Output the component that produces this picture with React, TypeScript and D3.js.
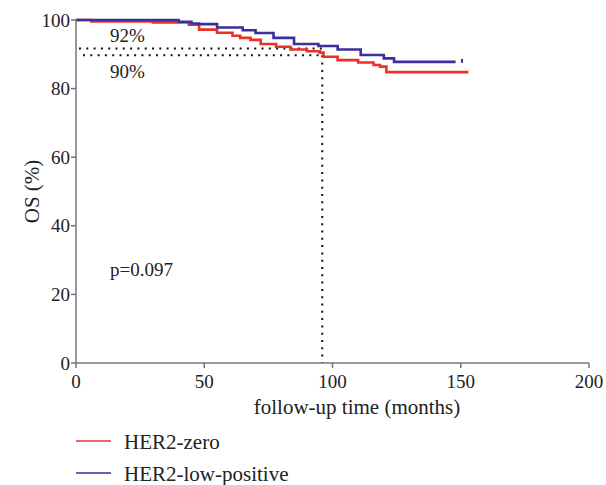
import React from "react";
import * as d3 from "d3";

const zeroTimes = [0, 6, 30, 44, 48, 55, 61, 64, 68, 72, 78, 83.6, 90, 95, 96.5, 102, 110, 116, 118.5, 121, 153];
const zeroSurv = [100, 99.6, 99.3, 98.6, 97.2, 96.3, 95.4, 94.8, 94.2, 93, 92.2, 91.4, 90.9, 90.5, 89.3, 88.3, 87.6, 86.9, 86.4, 84.8, 84.8];
const lowTimes = [0, 40, 45, 48, 55, 65, 70, 77, 85, 94.5, 102, 111, 120, 124, 148];
const lowSurv = [100, 99.5, 99, 98.8, 97.8, 97, 96.2, 94.8, 93, 92.4, 91.4, 89.8, 88.8, 87.8, 87.8];
const lowCensorTimes = [150.5];
const lowCensorSurv = [87.8];
const xTicks = [0, 50, 100, 150, 200];
const yTicks = [0, 20, 40, 60, 80, 100];
const refTime = 96;
const refLevels = [92, 90];
const refLabels = ["92%", "90%"];
const pValueText = "p=0.097";
const seriesNames = ["HER2-zero", "HER2-low-positive"];
const seriesColors = ["#ec2f27", "#3b2f9c"];

const W = 606;
const H = 485;
const FONT = "Liberation Serif, Times New Roman, DejaVu Serif, serif";
const ts = { fontFamily: FONT };

export default function App() {
  const x = d3.scaleLinear().domain([0, 200]).range([76, 589]);
  const y = d3.scaleLinear().domain([0, 100]).range([363, 20]);
  const line = d3
    .line<[number, number]>()
    .x((d) => x(d[0]))
    .y((d) => y(d[1]))
    .curve(d3.curveStepAfter);
  const zeroPts = zeroTimes.map((t, i) => [t, zeroSurv[i]] as [number, number]);
  const lowPts = lowTimes.map((t, i) => [t, lowSurv[i]] as [number, number]);
  const axisColor = "#777";

  return (
    <div style={{ position: "absolute", left: 0, top: 0 }}>
      <svg width={W} height={H} style={{ display: "block", background: "#fff" }}>
        {refLevels.map((lv, i) => (
          <line
            key={"h" + i}
            x1={x(0) + 3 + i * 4}
            x2={x(refTime)}
            y1={y(lv) + 1}
            y2={y(lv) + 1}
            stroke="#111"
            strokeWidth={2}
            strokeDasharray="2,5.3"
          />
        ))}
        <line
          x1={x(refTime)}
          x2={x(refTime)}
          y1={y(refLevels[1]) + 1}
          y2={y(0)}
          stroke="#111"
          strokeWidth={2}
          strokeDasharray="2,5.3"
        />
        <path d={line(zeroPts) || ""} fill="none" stroke={seriesColors[0]} strokeWidth={2.6} />
        <path d={line(lowPts) || ""} fill="none" stroke={seriesColors[1]} strokeWidth={2.6} />
        {lowCensorTimes.map((t, i) => (
          <line
            key={"c" + i}
            x1={x(t)}
            x2={x(t)}
            y1={y(lowCensorSurv[i]) - 3}
            y2={y(lowCensorSurv[i]) + 1}
            stroke={seriesColors[1]}
            strokeWidth={2}
          />
        ))}
        <line x1={x(0)} x2={x(0)} y1={y(0)} y2={y(100)} stroke={axisColor} strokeWidth={1.5} />
        <line x1={x(0)} x2={x(200)} y1={y(0)} y2={y(0)} stroke={axisColor} strokeWidth={1.5} />
        {yTicks.map((t) => (
          <g key={"yt" + t}>
            <line x1={x(0) - 5} x2={x(0)} y1={y(t)} y2={y(t)} stroke={axisColor} strokeWidth={1.5} />
            <text x={x(0) - 6} y={y(t)} dy="0.35em" textAnchor="end" style={ts} fontSize={19} fill="#222">
              {t}
            </text>
          </g>
        ))}
        {xTicks.map((t) => (
          <g key={"xt" + t}>
            <line x1={x(t)} x2={x(t)} y1={y(0)} y2={y(0) + 5} stroke={axisColor} strokeWidth={1.5} />
            <text x={x(t)} y={y(0) + 25} textAnchor="middle" style={ts} fontSize={19} fill="#222">
              {t}
            </text>
          </g>
        ))}
        <text x={357} y={414} textAnchor="middle" style={ts} fontSize={21} fill="#222">
          follow-up time (months)
        </text>
        <text transform={`translate(39, ${y(50)}) rotate(-90)`} textAnchor="middle" style={ts} fontSize={21} fill="#222">
          OS (%)
        </text>
        <text x={110} y={42} style={ts} fontSize={19} fill="#222">
          {refLabels[0]}
        </text>
        <text x={110} y={78} style={ts} fontSize={19} fill="#222">
          {refLabels[1]}
        </text>
        <text x={110} y={276} style={ts} fontSize={19} fill="#222">
          {pValueText}
        </text>
        {seriesNames.map((n, i) => (
          <g key={"lg" + i} transform={`translate(0, ${i * 32})`}>
            <line x1={76} x2={111} y1={441} y2={441} stroke={seriesColors[i]} strokeWidth={1.5} />
            <text x={124} y={449} style={ts} fontSize={21} fill="#222">
              {n}
            </text>
          </g>
        ))}
      </svg>
    </div>
  );
}
